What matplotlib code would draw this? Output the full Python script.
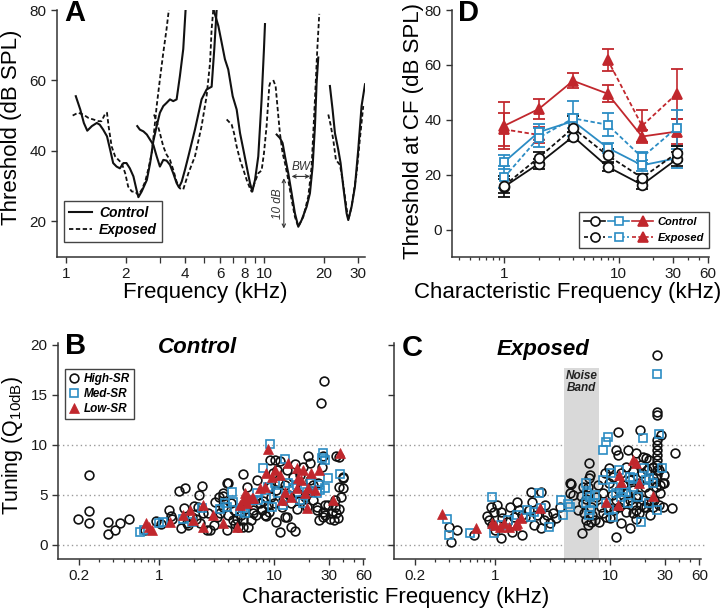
import numpy as np
import matplotlib
matplotlib.use('Agg')
import matplotlib.pyplot as plt
import matplotlib.transforms as mtransforms
from matplotlib.ticker import FixedLocator, FixedFormatter, NullFormatter
from matplotlib.legend_handler import HandlerTuple
from matplotlib.lines import Line2D

plt.rcParams['font.family'] = ['Liberation Sans', 'DejaVu Sans']

# ---------------- Panel A: tuning curves ----------------
ctrl1_f = [1.12,1.18,1.23,1.28,1.35,1.43,1.48,1.54,1.61,1.67,1.73,1.80,1.87,1.95,2.02,2.10,2.19,2.27,2.32,2.41,2.56,2.66,2.76,2.87,2.98,3.10,3.22,3.35,3.48,3.62,3.76,3.91,4.02]
ctrl1_t = [55.5,51.7,47.9,45.7,47.0,47.9,47.4,46.0,44.1,40.3,36.5,35.5,35.0,36.5,36.5,35.0,32.7,28.9,26.8,28.4,31.7,36.5,42.7,47.0,50.8,52.7,53.6,54.6,54.1,54.6,61.2,68.9,80.3]
exp1_f = [1.08,1.15,1.22,1.30,1.37,1.46,1.51,1.57,1.61,1.64,1.70,1.77,1.84,1.91,1.99,2.06,2.15,2.23,2.32,2.41,2.51,2.60,2.71,2.78,2.87,2.98,3.10,3.22,3.31]
exp1_t = [50.0,50.8,50.3,49.3,48.9,48.4,48.4,50.3,50.8,47.0,41.2,38.4,37.4,36.5,33.6,29.8,28.4,28.4,27.4,28.9,31.2,34.6,39.3,45.0,52.7,60.3,67.9,74.6,80.3]
ctrl2_f = [2.29,2.36,2.46,2.56,2.66,2.76,2.87,2.98,3.10,3.22,3.35,3.48,3.62,3.72,3.84,3.99,4.15,4.48,4.84,5.13,5.44,5.61,5.77]
ctrl2_t = [47.0,46.0,45.5,44.6,43.1,41.7,38.4,35.5,37.4,37.2,36.0,33.6,30.8,29.6,31.2,34.6,38.4,46.0,54.6,57.4,58.2,68.9,80.3]
exp2_f = [2.78,2.87,2.98,3.10,3.22,3.35,3.48,3.62,3.76,3.91,4.15,4.48,4.84,5.13,5.34,5.44,5.55]
exp2_t = [50.3,48.4,45.0,41.2,38.9,37.4,34.6,31.2,29.3,29.0,33.6,38.4,47.0,55.5,65.0,74.6,80.3]
ctrl3_f = [5.55,5.88,6.11,6.35,6.60,6.95,7.28,7.57,7.87,8.18,8.50,8.73,9.01,9.36,9.73,10.0,10.12]
ctrl3_t = [80.3,75.5,70.8,66.0,63.1,55.5,51.7,45.0,40.3,35.5,30.8,28.4,31.7,38.4,54.6,68.9,76.0]
exp3_f = [6.48,6.87,7.06,7.28,7.57,7.87,8.18,8.50,8.66,9.01,9.36,9.73,10.0,10.31,10.64,10.85]
exp3_t = [48.9,47.4,45.0,41.2,37.4,34.6,31.7,29.3,28.4,31.2,33.6,34.4,39.3,47.0,58.4,60.1]
ctrl4_f = [11.59,12.04,12.42,12.77,13.27,13.80,14.34,14.91,15.50,16.43,17.07,17.61,18.10,18.45,18.81]
ctrl4_t = [44.6,43.6,42.2,38.4,33.6,27.9,22.2,18.4,20.3,24.1,27.9,35.5,47.0,59.3,66.5]
exp4_f = [11.14,11.45,11.82,12.04,12.42,12.77,13.27,13.80,14.34,14.91,15.80,16.75,17.41,18.10,18.60,19.03]
exp4_t = [60.1,58.4,49.8,45.0,39.3,36.5,31.7,26.0,21.2,18.4,21.2,27.0,35.5,54.6,68.9,78.9]
ctrl5_f = [21.54,22.22,22.84,23.74,24.39,25.16,26.16,26.67,27.72,28.82,29.95,31.13,32.4]
ctrl5_t = [58.4,51.7,45.0,40.3,36.5,29.8,22.2,20.3,24.1,29.8,40.3,52.7,58.9]
exp5_f = [21.14,21.71,22.40,23.10,24.20,24.97,25.95,26.67,27.72,29.38,30.5,31.75]
exp5_t = [50.3,47.4,43.1,37.4,36.0,31.7,25.0,20.3,24.1,33.6,43.1,52.7]

a_major = [1, 2, 4, 6, 8, 10, 20, 30]
a_minor = [3, 5, 7, 9]
bw_freqs = [13.8, 17.07]
bw_level = 32.7
tendb_freq = 12.6
tendb_levels = [17.9, 32.2]

# ---------------- Panel D: thresholds at CF ----------------
d_freq = [1, 2, 4, 8, 16, 32]
ctrl_high = [15.6, 24.0, 33.9, 22.9, 16.3, 25.6]
ctrl_high_err = [3.8, 1.8, 1.8, 1.5, 1.5, 2.5]
exp_high = [16.0, 26.2, 37.0, 27.0, 18.9, 27.8]
exp_high_err = [2.5, 2.0, 4.5, 2.3, 1.5, 2.8]
ctrl_med = [24.6, 35.5, 39.5, 29.8, 23.4, 26.0]
ctrl_med_err = [2.5, 3.0, 2.5, 1.8, 2.0, 3.5]
exp_med = [19.0, 33.5, 40.5, 38.2, 26.3, 37.0]
exp_med_err = [4.0, 3.5, 6.5, 4.2, 2.0, 6.5]
ctrl_low = [37.8, 43.9, 54.2, 49.5, 33.9, 35.7]
ctrl_low_err = [8.5, 3.5, 2.8, 3.0, 2.5, 4.5]
exp_low = [36.5, 34.5, np.nan, 61.9, 37.8, 49.4]
exp_low_err = [6.0, 3.0, np.nan, 4.0, 5.8, 9.0]

# ---------------- Panel B: Q10dB, control ----------------
bH_f = [0.246,0.198,0.246,0.246,0.356,0.356,0.417,0.461,0.545,1.05,1.21,1.26,1.49,1.69,2.37,1.65,2.01,1.56,2.63,3.09,
        3.3,3.96,3.6,2.24,1.92,1.74,2.27,2.69,2.4,2.2,3.4,3.87,4.4,4.9,5.4,6.0,5.6,6.6,7.5,8.1,8.6,9.3,9.9,10.2,10.7,
        11.7,12.1,12.9,14.2,14.7,15.8,16.8,17.9,20.5,22,23.5,24.8,27.7,29.7,32,34,38.6,40,37,
        27.2,25.5,5.41,3.87,3.62,9.2,11.3,15.2,19.9,26.5,35,39.5,37,40,34,35,36,26.5,26.8,27.7,19.2,23.5,11.4,15.2,
        10.4,12.5,8.3,6.6,5.4,4.6,4.0,3.6,3.2,2.8,5.8,7.1,13,17.9,20.5,22,26,
        6.3,7.0,7.8,8.8,9.5,10.5,11.0,12.5,13.5,14.0,16.0,18.5,21.0,24.0,5.2,4.8,9.0,10.0,17.0,30.5,33.5,36.5,
        0.75,0.95,1.3,1.8,2.1,3.0,4.2,4.5]
bH_q = [7.0,2.57,3.43,2.17,2.3,1.1,1.5,2.17,2.57,2.07,3.5,2.9,5.43,5.67,5.9,3.67,3.9,1.67,1.5,4.33,
        4.8,6.2,5.2,5.0,2.8,2.2,2.2,3.2,3.2,3.8,3.2,1.5,2.5,1.8,2.5,1.8,3.6,3.2,4.2,4.4,2.9,5.8,7.2,8.5,7.5,
        3.8,4.5,2.8,1.8,6.8,5.2,4.5,5.8,8.2,4.5,3.5,2.5,3.0,4.0,3.2,4.5,4.8,6.7,8.8,
        16.4,14.2,7.1,6.2,4.9,8.5,8.4,8.1,8.9,8.9,8.9,6.8,5.8,5.7,3.8,3.2,2.7,2.8,3.3,4.0,3.8,3.8,1.3,1.4,
        2.3,2.8,3.0,3.5,1.8,2.1,3.0,3.8,2.8,1.5,5.8,6.5,7.5,7.8,6.5,6.0,7.8,
        2.5,3.0,3.5,4.0,4.8,5.5,6.2,6.0,5.0,4.2,3.6,4.8,5.4,6.2,3.0,2.6,3.3,4.2,7.0,2.6,2.5,3.6,
        1.5,2.4,2.6,2.0,2.6,2.0,4.2,3.5]
bM_f = [0.68,0.74,0.99,1.09,1.92,1.6,2.35,3.4,3.75,4.28,4.4,5.4,5.6,6.6,7.1,8.1,9.3,8.9,8.6,9.6,10.2,10.9,12.5,
        12.1,12.9,13.3,14.7,15.8,16.8,17.9,19.2,21.2,23.5,24.8,26,26.8,27.7,25,27.7,29.7,37.5,7.3,5.1,3.9,6.0]
bM_q = [1.3,1.5,2.2,2.3,2.3,2.6,3.7,3.6,4.2,5.3,4.3,3.7,3.2,4.5,5.2,7.7,10.1,5.8,4.7,3.8,6.2,5.2,8.6,
        4.0,4.8,6.2,5.7,6.0,4.5,4.2,5.3,6.2,5.2,6.0,8.7,9.2,8.5,5.5,5.7,6.7,7.1,4.5,3.4,3.8,4.5]
bL_f = [0.77,0.81,0.86,1.25,1.63,1.86,1.99,2.43,2.4,2.97,3.58,4.74,5.1,5.6,6.0,5.8,6.4,7.5,8.3,8.6,8.8,9.6,10.2,
        11.3,11.7,12.5,13.3,14.2,15.8,16.3,17.3,17.9,18.6,19.2,19.8,21.2,22.7,24.8,32.8,37.5,15.8,6.6,5.4]
bL_q = [2.2,1.8,1.5,2.3,3.0,3.5,2.5,4.0,1.8,3.0,2.2,1.8,4.0,5.2,4.8,4.2,4.7,5.7,5.8,7.2,9.6,6.8,7.5,
        7.0,4.5,5.3,8.2,4.8,7.7,6.7,6.5,7.5,5.2,3.7,5.7,7.2,5.5,7.5,4.5,9.2,5.7,4.7,4.5]

# ---------------- Panel C: Q10dB, exposed ----------------
cH_f = [0.40,0.47,0.41,0.65,0.92,1.05,0.98,1.12,0.89,0.95,1.12,1.28,1.41,1.56,1.61,1.46,1.72,1.84,1.97,2.04,2.49,2.65,2.84,3.66,4.46,
        2.2,2.5,3.0,2.3,1.35,1.15,0.85,1.0,1.7,2.1,2.7,3.2,3.4,
        6.56,6.64,6.56,5.8,6.4,4.6,4.76,4.46,5.6,5.8,6.0,6.2,5.74,6.9,7.35,6.9,7.6,7.85,6.2,5.3,7.0,6.5,
        11.7,18.2,25.9,25.9,25.9,25.9,25.9,25.9,25.9,25.9,25.9,25.9,25.9,36.9,11.3,11.7,13.8,9.9,9.1,19.2,20.5,22,23.5,
        28.7,29.6,34.9,28.7,23.5,19.9,18,15.8,14.8,11.3,8.7,9.6,11.3,14.8,16.9,19.2,22,25,29.6,20.5,16.9,13.8,12.1,
        10.1,8.1,8.4,8.7,9.9,10.6,12.6,18,23.5,26.8,
        10.5,12.0,13.0,14.0,15.0,16.0,17.5,18.5,20.0,21.5,24.0,27.0,26.5,22.5,17.0,12.5,9.3,10.8,13.2,15.5,19.0,21.0,
        24.5,27.5,28.0,17.0,14.5,18.5,16.0]
cH_q = [1.83,1.5,0.33,1.0,3.77,4.0,3.3,3.3,2.5,2.0,0.67,2.33,1.33,4.33,3.5,2.83,1.0,2.83,3.5,5.33,5.33,2.5,3.0,3.77,6.17,
        2.0,1.7,2.2,3.0,3.8,2.7,2.9,1.5,3.0,4.3,4.0,3.2,2.7,
        8.17,7.0,6.67,5.83,5.83,6.1,5.0,5.17,4.9,4.17,3.17,2.5,1.17,2.33,2.5,3.83,4.83,6.0,4.6,3.5,3.0,2.0,
        11.33,11.5,19.0,13.33,13.0,10.5,10.0,9.5,9.0,8.5,8.0,7.5,7.0,9.17,9.5,9.0,7.83,7.67,7.17,8.83,8.67,8.5,6.67,
        6.17,7.0,3.67,3.83,3.83,3.83,3.17,3.17,1.67,0.83,3.17,3.83,4.5,4.5,4.83,4.5,5.17,5.83,6.17,3.83,3.5,3.33,3.83,
        2.67,2.33,3.83,5.17,6.17,6.83,7.17,6.17,7.83,7.5,
        5.0,5.5,6.0,5.2,6.5,5.5,5.0,4.0,5.8,4.2,4.5,5.2,4.0,3.0,2.6,2.2,2.8,3.5,4.3,4.0,7.2,7.5,
        6.3,6.0,11.0,9.2,9.5,8.0,7.4]
cM_f = [0.38,0.40,0.61,0.94,0.97,1.12,1.9,2.04,2.49,2.40,2.93,3.78,3.9,4.3,6.2,6.3,6.64,7.35,6.2,6.64,6.56,7.1,4.46,
        9.6,9.3,8.7,19.2,25.9,26.5,28.1,25.9,18.6,10.6,14.3,10.2,12.1,14.8,19.9,22,23.5,15.8,13.8,11.3,10.6,12.6,17.4,
        22,9.3,9.9,8.7,15.8,20.5,12.9,1.55,1.3,2.2]
cM_q = [2.57,1.0,1.23,4.77,1.17,2.0,3.5,2.83,3.67,5.23,1.83,4.5,3.0,4.1,6.17,5.17,4.83,5.0,4.17,3.5,3.0,4.17,3.83,
        10.77,10.33,9.5,10.67,17.1,11.1,7.67,3.5,2.33,2.83,4.17,7.17,7.5,6.83,7.67,6.67,6.17,5.83,5.33,5.17,5.83,4.83,4.83,
        4.17,4.17,3.5,6.5,6.67,6.5,5.33,3.0,2.5,3.3]
cL_f = [0.345,0.68,0.95,1.1,1.32,1.56,1.69,1.51,2.45,15.8,16.9,12.1,12.6,18,23.5,9.3,11.7,1.2,1.0]
cL_q = [3.1,1.67,2.17,1.83,1.83,2.17,2.67,2.0,3.67,8.5,8.17,7.0,6.33,6.17,4.9,4.33,4.0,2.2,2.0]

noise_band = [4, 8]
noise_band_top = 17.7
q_grid = [0, 5, 10]
bc_major = [0.2, 1, 10, 30, 60]
bc_minor = [0.3,0.4,0.5,0.6,0.7,0.8,0.9,2,3,4,5,6,7,8,9,20,40,50]
d_major = [1, 10, 30, 60]
d_minor = [0.4,0.5,0.6,0.7,0.8,0.9,2,3,4,5,6,7,8,9,20,40,50]

RED = '#c1272d'
BLUE = '#2b8cc4'
BLACK = '#111111'
SPINE = '#333333'
DASH = (0, (2.4, 1.4))

W, H = 725, 612
fig = plt.figure(figsize=(W/100, H/100), dpi=100)
axA = fig.add_axes([57/W, 1-257/H, 308/W, 247/H])
axD = fig.add_axes([452/W, 1-257/H, 257/W, 247/H])
axB = fig.add_axes([58/W, 1-559/H, 307/W, 216/H])
axC = fig.add_axes([394/W, 1-559/H, 307/W, 216/H])

def style(ax):
    ax.set_facecolor('none')
    for s in ['top', 'right']:
        ax.spines[s].set_visible(False)
    for s in ['left', 'bottom']:
        ax.spines[s].set_color(SPINE)
        ax.spines[s].set_linewidth(1.1)
    ax.tick_params(which='major', direction='out', length=4.5, width=1, color=SPINE,
                   labelsize=11, labelcolor='#1a1a1a', pad=3)
    ax.tick_params(which='minor', direction='out', length=2.5, width=0.9, color=SPINE)

for ax in (axA, axB, axC, axD):
    style(ax)

# ---- Panel A ----
ctrl_curves = [(ctrl1_f, ctrl1_t), (ctrl2_f, ctrl2_t), (ctrl3_f, ctrl3_t), (ctrl4_f, ctrl4_t), (ctrl5_f, ctrl5_t)]
exp_curves = [(exp1_f, exp1_t), (exp2_f, exp2_t), (exp3_f, exp3_t), (exp4_f, exp4_t), (exp5_f, exp5_t)]
for i, (f, t) in enumerate(ctrl_curves):
    axA.plot(f, t, color=BLACK, lw=1.5, label='Control' if i == 0 else None)
for i, (f, t) in enumerate(exp_curves):
    axA.plot(f, t, color=BLACK, lw=1.3, ls=DASH, label='Exposed' if i == 0 else None)
axA.set_xscale('log')
axA.set_xlim(0.9, 32.4)
axA.set_ylim(9.8, 80)
axA.xaxis.set_major_locator(FixedLocator(a_major))
axA.xaxis.set_major_formatter(FixedFormatter([str(v) for v in a_major]))
axA.xaxis.set_minor_locator(FixedLocator(a_minor))
axA.xaxis.set_minor_formatter(NullFormatter())
axA.tick_params(which='minor', length=4.5)
axA.set_yticks([20, 40, 60, 80])
axA.annotate('', xy=(bw_freqs[0], bw_level), xytext=(bw_freqs[1], bw_level),
             arrowprops=dict(arrowstyle='<->', lw=0.8, color='#333333', shrinkA=0, shrinkB=0,
                             mutation_scale=6))
axA.text(np.sqrt(bw_freqs[0]*bw_freqs[1]), bw_level + 1.0, 'BW', fontsize=8.5, style='italic',
         color='#333333', ha='center', va='bottom')
axA.annotate('', xy=(tendb_freq, tendb_levels[0]), xytext=(tendb_freq, tendb_levels[1]),
             arrowprops=dict(arrowstyle='<->', lw=0.8, color='#333333', shrinkA=0, shrinkB=0,
                             mutation_scale=6))
axA.text(tendb_freq*0.93, np.mean(tendb_levels), '10 dB', fontsize=8.5, style='italic',
         color='#333333', ha='center', va='center', rotation=90)
legA = axA.legend(loc='lower left', bbox_to_anchor=(0.022, 0.06), borderaxespad=0,
                  fancybox=False, edgecolor='#444444', framealpha=1,
                  prop=dict(size=10, weight='bold', style='italic'), handlelength=1.7,
                  handletextpad=0.5, borderpad=0.35, labelspacing=0.25)
legA.get_frame().set_linewidth(1.0)

# ---- Panel D ----
series = [
    (ctrl_low, ctrl_low_err, RED, '-', '^', RED, 7.5),
    (exp_low, exp_low_err, RED, DASH, '^', RED, 7.5),
    (ctrl_med, ctrl_med_err, BLUE, '-', 's', 'white', 6),
    (exp_med, exp_med_err, BLUE, DASH, 's', 'white', 6),
    (ctrl_high, ctrl_high_err, BLACK, '-', 'o', 'white', 7),
    (exp_high, exp_high_err, BLACK, DASH, 'o', 'white', 7),
]
for vals, err, c, ls, m, mfc, ms in series:
    eb = axD.errorbar(d_freq, vals, yerr=err, color=c, ls=ls, lw=1.3, marker=m, ms=ms,
                      mfc=mfc, mec=c, mew=1.3, capsize=4, capthick=1.2, elinewidth=1.2)
    eb[-1][0].set_linestyle('-')
axD.set_xscale('log')
axD.set_xlim(0.35, 61.5)
axD.set_ylim(-10, 80)
axD.set_yticks([0, 20, 40, 60, 80])
axD.xaxis.set_major_locator(FixedLocator(d_major))
axD.xaxis.set_major_formatter(FixedFormatter([str(v) for v in d_major]))
axD.xaxis.set_minor_locator(FixedLocator(d_minor))
axD.xaxis.set_minor_formatter(NullFormatter())

def h(c, ls, m, mfc, ms):
    return Line2D([], [], color=c, ls=ls, lw=1.2, marker=m, mfc=mfc, mec=c, ms=ms, mew=1.2)
hc = (h(BLACK, '-', 'o', 'white', 6.5), h(BLUE, '-', 's', 'white', 5.5), h(RED, '-', '^', RED, 7))
he = (h(BLACK, DASH, 'o', 'white', 6.5), h(BLUE, DASH, 's', 'white', 5.5), h(RED, DASH, '^', RED, 7))
legD = axD.legend([hc, he], ['Control', 'Exposed'], handler_map={tuple: HandlerTuple(ndivide=None, pad=0.25)},
                  loc='lower right', bbox_to_anchor=(1.0, 0.035), borderaxespad=0,
                  fancybox=False, edgecolor='#444444', framealpha=1, handlelength=6.2,
                  prop=dict(size=8, weight='bold', style='italic'), handletextpad=0.4,
                  borderpad=0.45, labelspacing=0.55)
legD.get_frame().set_linewidth(1.0)

# ---- Panels B & C ----
for ax, (hf, hq, mf, mq, lf, lq) in ((axB, (bH_f, bH_q, bM_f, bM_q, bL_f, bL_q)),
                                     (axC, (cH_f, cH_q, cM_f, cM_q, cL_f, cL_q))):
    ax.plot(hf, hq, ls='none', marker='o', ms=6.3, mfc='none', mec=BLACK, mew=1.2, label='High-SR', zorder=3)
    ax.plot(mf, mq, ls='none', marker='s', ms=5.3, mfc='none', mec=BLUE, mew=1.2, label='Med-SR', zorder=4)
    ax.plot(lf, lq, ls='none', marker='^', ms=7.5, mfc=RED, mec=RED, mew=0.5, label='Low-SR', zorder=5)
    ax.set_xscale('log')
    ax.set_xlim(0.132, 62)
    ax.set_ylim(-1.4, 20.2)
    ax.set_yticks([0, 5, 10, 15, 20])
    ax.xaxis.set_major_locator(FixedLocator(bc_major))
    ax.xaxis.set_major_formatter(FixedFormatter([str(v) for v in bc_major]))
    ax.xaxis.set_minor_locator(FixedLocator(bc_minor))
    ax.xaxis.set_minor_formatter(NullFormatter())
axC.tick_params(axis='y', labelleft=False)
axC.fill_between(noise_band, -1.4, noise_band_top, color='#d9d9d9', lw=0, zorder=1)
axC.text(np.sqrt(noise_band[0]*noise_band[1]), 16.3, 'Noise\nBand', fontsize=8.5, weight='bold',
         style='italic', ha='center', va='center', linespacing=0.95, color='#222222', zorder=2)

trans = mtransforms.blended_transform_factory(fig.transFigure, axB.transData)
for q in q_grid:
    axB.plot([58/W, 706/W], [q, q], transform=trans, clip_on=False, color='#9a9a9a',
             lw=1.0, ls=(0, (1, 2.2)), zorder=0.5)

legB = axB.legend(loc='upper left', bbox_to_anchor=(0.022, 0.88), borderaxespad=0,
                  fancybox=False, edgecolor='#444444', framealpha=1,
                  prop=dict(size=8.5, weight='bold', style='italic'), handlelength=0.8,
                  handletextpad=0.45, borderpad=0.35, labelspacing=0.25)
legB.get_frame().set_linewidth(1.0)

# ---- titles, panel letters, labels ----
fig.text(197.5/W, 1-347.5/H, 'Control', fontsize=16, weight='bold', style='italic', ha='center', va='center')
fig.text(543.5/W, 1-349/H, 'Exposed', fontsize=16, weight='bold', style='italic', ha='center', va='center')
for lbl, x, y in (('A', 75, 13), ('D', 468, 13), ('B', 75.5, 346.5), ('C', 412.5, 347.5)):
    fig.text(x/W, 1-y/H, lbl, fontsize=21, weight='bold', ha='center', va='center')

fig.text(205/W, 1-292/H, 'Frequency (kHz)', fontsize=16, ha='center', va='center')
fig.text(12/W, 1-127.5/H, 'Threshold (dB SPL)', fontsize=16, ha='center', va='center', rotation=90)
fig.text(568/W, 1-292/H, 'Characteristic Frequency (kHz)', fontsize=16, ha='center', va='center')
fig.text(413/W, 1-131/H, 'Threshold at CF (dB SPL)', fontsize=16, ha='center', va='center', rotation=90)
fig.text(13/W, 1-445/H, 'Tuning (Q$_{\\mathregular{10dB}}$)', fontsize=15.5, ha='center', va='center', rotation=90)
fig.text(395.5/W, 1-597/H, 'Characteristic Frequency (kHz)', fontsize=16, ha='center', va='center')

fig.savefig('out.png', dpi=100)
